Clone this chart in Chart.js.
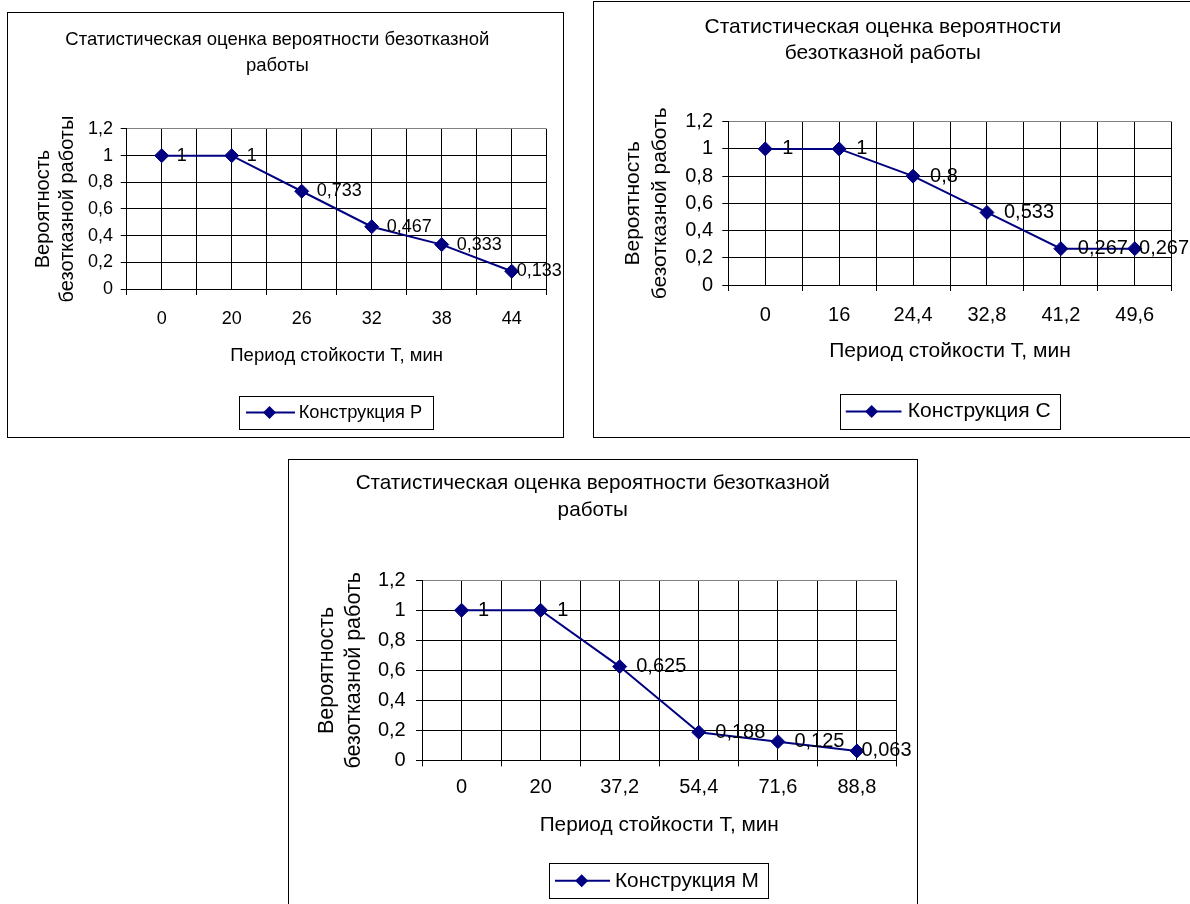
<!DOCTYPE html>
<html>
<head>
<meta charset="utf-8">
<script src="https://cdn.jsdelivr.net/npm/chart.js@4.4.1/dist/chart.umd.min.js"></script>
<style>
  html, body { margin: 0; padding: 0; background: #fff; overflow: hidden; width: 1190px; height: 904px; }
  .box { position: absolute; border: 1px solid #000; background: #fff; }
  .box canvas { display: block; }
</style>
</head>
<body>
<div class="box" style="left:7px;top:12px;"><canvas id="chartP" width="555" height="424"></canvas></div>
<div class="box" style="left:593px;top:1px;"><canvas id="chartC" width="599" height="435"></canvas></div>
<div class="box" style="left:288px;top:459px;"><canvas id="chartM" width="628" height="460"></canvas></div>

<script>
// Data
const catsP = ['0', '20', '26', '32', '38', '44'];
const probP = [1, 1, 0.733, 0.467, 0.333, 0.133];

const catsC = ['0', '16', '24,4', '32,8', '41,2', '49,6'];
const probC = [1, 1, 0.8, 0.533, 0.267, 0.267];

const catsM = ['0', '20', '37,2', '54,4', '71,6', '88,8'];
const probM = [1, 1, 0.625, 0.188, 0.125, 0.063];

const yMin = 0, yMax = 1.2, yStep = 0.2;

const titleRP = ['Статистическая оценка вероятности безотказной', 'работы'];
const titleC = ['Статистическая оценка вероятности', 'безотказной работы'];
const xTitle = 'Период стойкости Т, мин';
const yTitleP = ['Вероятность', 'безотказной работы'];
const yTitleCM = ['Вероятность', 'безотказной работь'];

const FONT = "'Liberation Sans', Arial, sans-serif";
const NAVY = '#000080';
const GRAY = '#808080';

const comma = v => String(v).replace('.', ',');

// value labels to the right of each point
const pointLabels = {
  id: 'pointLabels',
  afterDatasetsDraw(chart, args, o) {
    const ctx = chart.ctx;
    const meta = chart.getDatasetMeta(0);
    const vals = chart.data.datasets[0].data;
    ctx.save();
    ctx.font = o.size + 'px ' + FONT;
    ctx.fillStyle = '#000';
    ctx.textBaseline = 'middle';
    ctx.textAlign = 'left';
    meta.data.forEach((pt, i) => {
      const gap = i === vals.length - 1 ? o.lastGap : o.gap;
      ctx.fillText(comma(vals[i]), pt.x + gap, pt.y);
    });
    ctx.restore();
  }
};

// Excel style legend in a framed box
const boxLegend = {
  id: 'boxLegend',
  afterDraw(chart, args, o) {
    const ctx = chart.ctx;
    const cy = o.y + o.h / 2;
    const d = 6.5;
    ctx.save();
    ctx.strokeStyle = '#000';
    ctx.lineWidth = 1;
    ctx.strokeRect(Math.round(o.x) + 0.5, Math.round(o.y) + 0.5, Math.round(o.w), Math.round(o.h));
    ctx.strokeStyle = NAVY;
    ctx.lineWidth = 2;
    ctx.beginPath();
    ctx.moveTo(o.lineFrom, cy);
    ctx.lineTo(o.lineTo, cy);
    ctx.stroke();
    ctx.fillStyle = NAVY;
    ctx.beginPath();
    ctx.moveTo(o.mark - d, cy);
    ctx.lineTo(o.mark, cy - d);
    ctx.lineTo(o.mark + d, cy);
    ctx.lineTo(o.mark, cy + d);
    ctx.closePath();
    ctx.fill();
    ctx.fillStyle = '#000';
    ctx.font = o.size + 'px ' + FONT;
    ctx.textBaseline = 'middle';
    ctx.textAlign = 'left';
    ctx.fillText(chart.data.datasets[0].label, o.textX, cy);
    ctx.restore();
  }
};

function makeChart(id, cats, vals, name, title, yTitle, s) {
  const n = cats.length;
  return new Chart(document.getElementById(id), {
    type: 'line',
    data: {
      labels: cats,
      datasets: [{
        label: name,
        data: vals,
        borderColor: NAVY,
        borderWidth: 2,
        backgroundColor: NAVY,
        pointStyle: 'rectRot',
        pointRadius: 7,
        pointBorderWidth: 1,
        pointBackgroundColor: NAVY,
        pointBorderColor: NAVY,
        tension: 0,
        clip: false,
        xAxisID: 'x',
        yAxisID: 'y'
      }]
    },
    options: {
      responsive: false,
      animation: false,
      devicePixelRatio: 1,
      layout: { padding: { left: 0, top: 0, right: s.padRight, bottom: s.padBottom } },
      plugins: {
        legend: { display: false },
        tooltip: { enabled: false },
        title: {
          display: true,
          text: title,
          color: '#000',
          font: { family: FONT, size: s.titleSize, weight: 'normal', lineHeight: s.titleLH },
          padding: { top: s.titleTop, bottom: s.titleBottom }
        },
        pointLabels: { size: s.labelSize, gap: s.gap, lastGap: s.lastGap },
        boxLegend: s.legend
      },
      scales: {
        x: {
          type: 'category',
          position: 'bottom',
          offset: true,
          afterFit: sc => { sc.height = s.xHeight; },
          grid: {
            offset: true,
            color: c => (c.index === n ? GRAY : '#000'),
            tickColor: '#000',
            tickLength: 6,
            lineWidth: 1
          },
          border: { color: '#000', width: 1 },
          ticks: {
            color: '#000',
            padding: s.xTickPad,
            maxRotation: 0,
            autoSkip: false,
            font: { family: FONT, size: s.tickSize }
          },
          title: {
            display: true,
            text: xTitle,
            color: '#000',
            padding: 0,
            font: { family: FONT, size: s.xTitleSize }
          }
        },
        x2: {
          type: 'category',
          position: 'bottom',
          offset: true,
          afterFit: sc => { sc.height = 0; },
          grid: { offset: false, color: '#000', drawTicks: false, lineWidth: 1 },
          border: { display: false },
          ticks: { display: false }
        },
        y: {
          type: 'linear',
          min: yMin,
          max: yMax,
          afterFit: sc => { sc.width = s.yWidth; },
          grid: {
            color: c => (c.tick && Math.abs(c.tick.value - yMax) < 1e-9 ? GRAY : '#000'),
            tickColor: '#000',
            tickLength: 6,
            lineWidth: 1
          },
          border: { color: '#000', width: 1 },
          ticks: {
            stepSize: yStep,
            color: '#000',
            padding: s.yTickPad,
            font: { family: FONT, size: s.tickSize },
            callback: v => comma(Math.round(v * 10) / 10)
          },
          title: {
            display: true,
            text: yTitle,
            color: '#000',
            padding: { top: s.yTitleTop, bottom: 0 },
            font: { family: FONT, size: s.yTitleSize, lineHeight: s.yTitleLH }
          }
        }
      }
    },
    plugins: [pointLabels, boxLegend]
  });
}

makeChart('chartP', catsP, probP, 'Конструкция Р', titleRP, yTitleP, {
  padRight: 16.3, padBottom: 70,
  titleSize: 18.5, titleLH: 1.405, titleTop: 14, titleBottom: 50,
  tickSize: 18, xTickPad: 13.5, xHeight: 78, xTitleSize: 18.5,
  yWidth: 118.7, yTickPad: 7.7, yTitleSize: 20, yTitleLH: 1.2, yTitleTop: 23.5,
  labelSize: 18, gap: 15, lastGap: 5,
  legend: { x: 231, y: 383, w: 194, h: 33, lineFrom: 238, lineTo: 287, mark: 261.5, textX: 290.7, size: 18.3 }
});

makeChart('chartC', catsC, probC, 'Конструкция С', titleC, yTitleCM, {
  padRight: 21.3, padBottom: 72.7,
  titleSize: 21, titleLH: 1.238, titleTop: 12.4, titleBottom: 55.3,
  tickSize: 20, xTickPad: 12, xHeight: 79.3, xTitleSize: 21,
  yWidth: 134.3, yTickPad: 9.3, yTitleSize: 21, yTitleLH: 1.286, yTitleTop: 26.1,
  labelSize: 20, gap: 17, lastGap: 4.3,
  legend: { x: 246, y: 392, w: 220, h: 35, lineFrom: 251.8, lineTo: 307.5, mark: 277.6, textX: 313.8, size: 21 }
});

makeChart('chartM', catsM, probM, 'Конструкция М', titleRP, yTitleCM, {
  padRight: 20.5, padBottom: 82.5,
  titleSize: 20.7, titleLH: 1.333, titleTop: 9, titleBottom: 56.1,
  tickSize: 20, xTickPad: 8.6, xHeight: 77.1, xTitleSize: 20.8,
  yWidth: 133, yTickPad: 10.3, yTitleSize: 21.5, yTitleLH: 1.27, yTitleTop: 24.35,
  labelSize: 20, gap: 16.5, lastGap: 4.5,
  legend: { x: 260, y: 403.3, w: 219, h: 35, lineFrom: 266, lineTo: 321, mark: 292.7, textX: 326, size: 20.8 }
});
</script>
</body>
</html>
